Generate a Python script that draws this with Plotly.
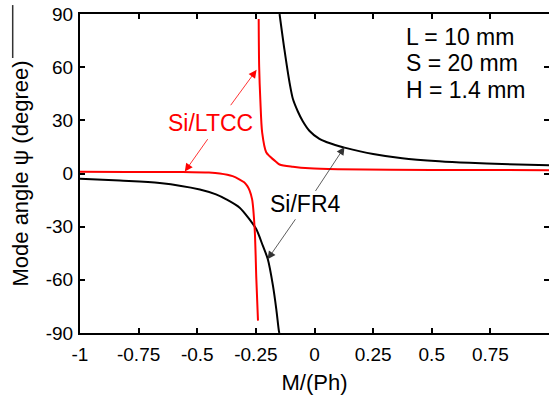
import plotly.graph_objects as go

# ---- data ----
fr4_left_x = [-1.0, -0.83, -0.66, -0.489, -0.42, -0.376, -0.319, -0.277, -0.248, -0.220, -0.199, -0.177, -0.163, -0.152, -0.150]
fr4_left_y = [-3.0, -4.0, -5.3, -9.0, -11.8, -14.6, -19.3, -25.9, -31.5, -40.9, -48.4, -63.4, -76.5, -88.7, -90.0]

fr4_right_x = [-0.149, -0.128, -0.106, -0.092, -0.071, -0.050, -0.021, 0.021, 0.050, 0.106, 0.128, 0.25, 0.374, 0.532, 0.66, 0.80, 1.0]
fr4_right_y = [90.0, 69.7, 51.0, 42.0, 35.0, 29.5, 24.0, 19.5, 17.8, 15.4, 14.6, 11.0, 8.6, 6.9, 6.0, 5.3, 4.7]

ltcc_left_x = [-1.0, -0.8, -0.562, -0.45, -0.404, -0.349, -0.319, -0.300, -0.287, -0.277, -0.266, -0.255, -0.248, -0.241]
ltcc_left_y = [1.0, 0.9, 0.8, 0.5, 0.0, -1.5, -3.4, -5.0, -7.0, -9.5, -14.6, -31.5, -59.6, -83.0]

ltcc_right_x = [-0.238, -0.236, -0.231, -0.223, -0.206, -0.191, -0.163, -0.149, -0.092, -0.021, 0.10, 0.5, 1.0]
ltcc_right_y = [87.2, 60.4, 41.6, 22.9, 12.0, 9.7, 6.5, 5.1, 3.8, 2.9, 2.4, 2.0, 1.9]

x_tickvals = [-1, -0.75, -0.5, -0.25, 0, 0.25, 0.5, 0.75, 1]
x_ticktext = ["-1", "-0.75", "-0.5", "-0.25", "0", "0.25", "0.5", "0.75", "1"]
y_tickvals = [-90, -60, -30, 0, 30, 60, 90]
y_ticktext = ["-90", "-60", "-30", "0", "30", "60", "90"]

params = ["L = 10 mm", "S = 20 mm", "H = 1.4 mm"]
params_y = [77.0, 62.4, 47.2]

FONT = "Liberation Sans, Arial, sans-serif"

fig = go.Figure()
for xs, ys, col in [(fr4_left_x, fr4_left_y, "black"), (fr4_right_x, fr4_right_y, "black"),
                    (ltcc_left_x, ltcc_left_y, "red"), (ltcc_right_x, ltcc_right_y, "red")]:
    fig.add_trace(go.Scatter(x=xs, y=ys, mode="lines",
                             line=dict(color=col, width=2, shape="spline", smoothing=0.8),
                             showlegend=False, hoverinfo="skip"))

annotations = []
# labels
annotations.append(dict(x=-0.443, y=28.7, text="Si/LTCC", showarrow=False,
                        font=dict(family=FONT, size=23, color="red")))
annotations.append(dict(x=-0.038, y=-17.4, text="Si/FR4", showarrow=False,
                        font=dict(family=FONT, size=23, color="black")))
# arrows
arrows = [
    (-0.247, 58.5, -0.362, 37.7, "red"),
    (-0.553, 1.1, -0.451, 20.2, "red"),
    (0.128, 15.0, 0.0, -10.7, "#333333"),
    (-0.200, -48.4, -0.077, -25.0, "#333333"),
]
for tx, ty, sx, sy, col in arrows:
    annotations.append(dict(x=tx, y=ty, ax=sx, ay=sy, xref="x", yref="y", axref="x", ayref="y",
                            text="", showarrow=True, arrowhead=2, arrowsize=2, arrowwidth=0.8,
                            arrowcolor=col, standoff=0, startstandoff=0))
for t, yy in zip(params, params_y):
    annotations.append(dict(x=0.383, y=yy, text=t, showarrow=False, xanchor="left",
                            font=dict(family=FONT, size=23, color="black")))

fig.update_layout(
    width=549, height=399,
    margin=dict(l=80, r=0, t=14, b=66),
    paper_bgcolor="white", plot_bgcolor="white",
    font=dict(family=FONT, color="black"),
    annotations=annotations,
    shapes=[dict(type="line", xref="paper", yref="paper", x0=-0.1435, x1=-0.1435,
                 y0=1.028, y1=0.862, line=dict(color="#333333", width=1.5))],
)
axis_common = dict(ticks="inside", ticklen=5, tickwidth=1.5, tickcolor="black",
                   showline=True, linewidth=2, linecolor="black", mirror="ticks",
                   showgrid=False, zeroline=False, automargin=False,
                   tickfont=dict(family=FONT, size=19, color="black"))
fig.update_xaxes(range=[-1, 1], tickvals=x_tickvals, ticktext=x_ticktext, ticklabelstandoff=3,
                 title=dict(text="M/(Ph)", font=dict(family=FONT, size=22), standoff=11),
                 **axis_common)
fig.update_yaxes(range=[-90, 90], tickvals=y_tickvals, ticktext=y_ticktext, ticklabelstandoff=1,
                 title=dict(text="Mode angle ψ (degree)", font=dict(family=FONT, size=22), standoff=11),
                 **axis_common)

fig.write_html("out.html", config={"displayModeBar": False},
               post_script="document.body.style.margin='0';document.body.style.overflow='hidden';")
